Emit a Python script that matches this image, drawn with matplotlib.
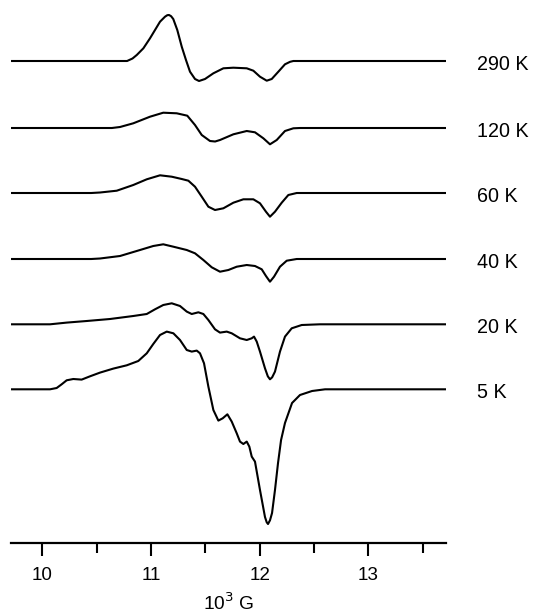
import matplotlib
matplotlib.use("Agg")
import matplotlib.pyplot as plt
from matplotlib.ticker import MultipleLocator

plt.rcParams['font.family'] = ['Liberation Sans', 'DejaVu Sans']

# temperatures, top to bottom, and where each trace sits in the stack
temps = ["290 K", "120 K", "60 K", "40 K", "20 K", "5 K"]
offsets = [481.5, 414.5, 349.5, 283.5, 218.2, 153.2]

# field in 10^3 G, signal in arbitrary units
field_290 = [9.712, 10.780, 10.830, 10.869, 10.930, 10.991, 11.037, 11.083, 11.129, 11.150,
             11.166, 11.185, 11.205, 11.242, 11.283, 11.322, 11.359, 11.405, 11.442, 11.497,
             11.574, 11.666, 11.758, 11.881, 11.942, 12.003, 12.065, 12.111, 12.172, 12.233,
             12.280, 12.310, 13.715]
sig_290 = [0, 0, 2.5, 6, 12.7, 22.7, 31, 39.3, 44.3, 45.8,
           46, 44.8, 42, 31, 14.3, 1, -10.7, -18, -20, -18,
           -12.3, -7.3, -6.7, -7.3, -9.7, -15.7, -19.7, -18, -10.7, -3.3,
           -0.8, 0, 0]

field_120 = [9.712, 10.640, 10.715, 10.837, 10.991, 11.113, 11.237, 11.334, 11.405, 11.467,
             11.543, 11.590, 11.635, 11.758, 11.881, 11.957, 12.034, 12.095, 12.157, 12.233,
             12.310, 12.371, 13.715]
sig_120 = [0, 0, 1, 4.7, 11.3, 15.3, 14.7, 12.3, 3, -7,
           -13, -13.5, -12, -6.3, -3, -4.3, -10.3, -16.3, -12, -3,
           -0.3, 0, 0]

field_60 = [9.712, 10.450, 10.531, 10.685, 10.837, 10.961, 11.083, 11.191, 11.283, 11.344,
            11.405, 11.467, 11.528, 11.589, 11.666, 11.758, 11.850, 11.942, 12.003, 12.058,
            12.095, 12.141, 12.203, 12.264, 12.341, 13.715]
sig_60 = [0, 0, 0.5, 2.3, 8, 13.7, 17.7, 16.3, 14, 12.3,
          6.3, -3.7, -13.7, -17, -15.3, -9.7, -6.3, -6.3, -10.3, -18.7,
          -23.7, -18.7, -9.7, -2, 0, 0]

field_40 = [9.712, 10.450, 10.531, 10.715, 10.899, 11.021, 11.113, 11.206, 11.329, 11.405,
            11.482, 11.559, 11.635, 11.712, 11.789, 11.881, 11.957, 12.019, 12.058, 12.095,
            12.132, 12.187, 12.249, 12.341, 13.715]
sig_40 = [0, 0, 0.5, 3, 9, 13, 14.7, 12.3, 9, 5.7,
          -1, -8.3, -12.7, -11, -7.7, -6, -7, -10.3, -17, -22.7,
          -17.7, -7.7, -1.7, 0, 0]

field_20 = [9.712, 10.071, 10.224, 10.408, 10.623, 10.837, 10.961, 11.037, 11.113, 11.191,
            11.267, 11.329, 11.375, 11.436, 11.482, 11.528, 11.589, 11.635, 11.697, 11.743,
            11.819, 11.881, 11.927, 11.948, 11.973, 12.003, 12.049, 12.075, 12.095, 12.115,
            12.141, 12.187, 12.233, 12.295, 12.387, 12.555, 13.715]
sig_20 = [0, 0, 1.7, 3.3, 5.3, 8.3, 10.3, 15, 19.3, 21,
          18.3, 12.7, 10.3, 12, 10.3, 4.3, -5, -8.3, -7.3, -9,
          -14, -15.7, -14, -12.3, -17.3, -27.3, -44, -52, -55, -53,
          -47.3, -27.3, -12.3, -4, -0.7, 0, 0]

field_5 = [9.712, 10.071, 10.132, 10.178, 10.224, 10.285, 10.362, 10.439, 10.531, 10.653,
           10.777, 10.883, 10.961, 11.021, 11.083, 11.145, 11.206, 11.267, 11.329, 11.375,
           11.421, 11.451, 11.488, 11.528, 11.574, 11.620, 11.660, 11.703, 11.743, 11.789,
           11.819, 11.850, 11.881, 11.905, 11.927, 11.957, 12.003, 12.049, 12.065, 12.077,
           12.095, 12.114, 12.141, 12.169, 12.197, 12.233, 12.298, 12.371, 12.482, 12.602,
           13.715]
sig_5 = [0, 0, 1.3, 5, 9, 10.3, 9.7, 13, 16.7, 20.7,
         24, 28.3, 36, 45.3, 54.3, 57.7, 56, 49.3, 39.3, 37.7,
         38.7, 36, 26, 2.7, -20.7, -31.3, -29, -25, -32.3, -44,
         -52.3, -54.7, -52.3, -57.3, -67.3, -72.3, -100.7, -127.7, -133, -134.7,
         -131, -123.7, -100.7, -73.7, -50.7, -33.7, -13.7, -5.7, -1.7, 0,
         0]

fields = [field_290, field_120, field_60, field_40, field_20, field_5]
signals = [sig_290, sig_120, sig_60, sig_40, sig_20, sig_5]

fig = plt.figure(figsize=(5.35, 6.13), dpi=100)
ax = fig.add_axes([0.0206, 0.115, 0.8131, 0.885])

for name, off, xs, ys in zip(temps, offsets, fields, signals):
    ax.plot(xs, [y + off for y in ys], color="black", lw=1.5,
            solid_joinstyle="round", solid_capstyle="butt")
    ax.text(14.0, off - 3, name, fontsize=14.2, va="center", ha="left", clip_on=False)

ax.set_xlim(9.712, 13.715)
ax.set_ylim(0, 542.5)

for s in ("left", "right", "top"):
    ax.spines[s].set_visible(False)
ax.spines["bottom"].set_linewidth(1.6)
ax.set_yticks([])

ax.xaxis.set_major_locator(MultipleLocator(1))
ax.xaxis.set_minor_locator(MultipleLocator(0.5))
ax.tick_params(axis="x", which="major", length=9.4, width=1.5, labelsize=13.6, pad=8.5)
ax.tick_params(axis="x", which="minor", length=7.2, width=1.5)
ax.set_xlabel("10$^3$ G", fontsize=13.8, labelpad=5.5)

fig.savefig("out.png", dpi=100)
